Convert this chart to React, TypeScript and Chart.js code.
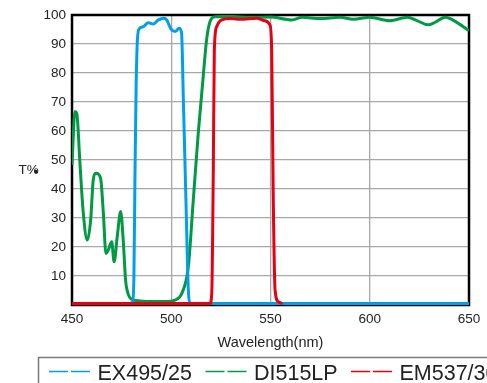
import { useEffect, useRef } from "react";
import { Chart, registerables } from "chart.js";

Chart.register(...registerables);

// ---- data ----
const xTicks = [450, 500, 550, 600, 650];
const yTicks = [0, 10, 20, 30, 40, 50, 60, 70, 80, 90, 100];

const exLabel = "EX495/25";
const exWl = [479, 480.5, 481.2, 481.7, 482.3, 483, 484, 486, 488.4, 491, 493.5, 496.3, 497.7, 499.9, 501.9, 504, 505.2, 506.1, 507.4, 508.6, 509.4, 511, 650];
const exT = [0.5, 1, 10, 43, 75, 92, 95.4, 96, 97.3, 96.9, 98.3, 98.9, 98.3, 95.1, 94.3, 95.4, 93.8, 70.7, 36.2, 5.2, 0.8, 0.5, 0.5];

const diLabel = "DI515LP";
const diWl = [450, 451.5, 452.4, 454, 455.7, 457.7, 459.4, 460.7, 462.1, 464.4, 465.8, 467.1, 468.3, 470, 471.2, 472.8, 474.5, 475.8, 477, 478.4, 480, 484.3, 490, 497, 501.9, 505.3, 508.6, 511.1, 513.6, 515.8, 517.8, 519.5, 522, 530, 540, 550, 560.7, 566, 575, 585, 591.7, 600, 610, 619, 624, 629.5, 633, 638, 643, 650];
const diT = [48.3, 66.7, 66.1, 48.9, 31.6, 22.4, 29.3, 43.1, 45.4, 43.7, 31.6, 17.8, 19, 21.8, 14.9, 23.6, 32.2, 22.4, 8.6, 3.6, 2, 1.4, 1.2, 1.2, 1.7, 4, 13.2, 36.2, 59.2, 76.4, 91.4, 97.7, 99.4, 99.5, 99.2, 99.3, 98.3, 99.2, 98.8, 99.2, 98.5, 99.2, 98, 99.2, 98, 96.6, 97.5, 99.2, 97.8, 94.6];

const emLabel = "EM537/30";
const emWl = [450, 519.5, 520.4, 521.2, 521.7, 522.9, 525.4, 530, 535, 543, 547.2, 549.7, 550.6, 551.4, 552.3, 554, 556];
const emT = [0.5, 0.5, 4, 47.7, 87.9, 96, 98.3, 98.8, 98.5, 98.9, 98, 96.6, 87.9, 36.2, 5.2, 1.1, 0.5];

const BLUE = "#00a0e9";
const GREEN = "#009a44";
const RED = "#e60012";
const FONT = '"Liberation Sans", Arial, sans-serif';

export default function App() {
  const ref = useRef<HTMLCanvasElement>(null);

  useEffect(() => {
    const canvas = ref.current;
    if (!canvas) return;
    const toPts = (w: number[], t: number[]) => w.map((x, i) => ({ x, y: t[i] }));

    const framePlugin = {
      id: "frame",
      beforeDatasetsDraw(chart: any) {
        const { ctx, chartArea: a } = chart;
        ctx.save();
        ctx.strokeStyle = "#000";
        ctx.lineWidth = 2.5;
        ctx.strokeRect(a.left, a.top, a.right - a.left, a.bottom - a.top);
        ctx.restore();
      },
      afterDraw(chart: any) {
        const { ctx, chartArea: a } = chart;
        ctx.save();
        // y title
        ctx.fillStyle = "#222";
        ctx.font = `13.5px ${FONT}`;
        ctx.textAlign = "left";
        ctx.textBaseline = "alphabetic";
        ctx.fillText("T%", 18.5, 174);
        ctx.beginPath();
        ctx.arc(36, 171.5, 1.8, 0, Math.PI * 2);
        ctx.fill();
        // x title
        ctx.font = `14.5px ${FONT}`;
        ctx.textAlign = "center";
        ctx.fillText("Wavelength(nm)", (a.left + a.right) / 2, 347);
        // legend box
        ctx.strokeStyle = "#7a7a7a";
        ctx.lineWidth = 1.5;
        ctx.fillStyle = "#fff";
        ctx.fillRect(38.5, 357.5, 520, 60);
        ctx.strokeRect(38.5, 357.5, 520, 60);
        const items = [
          { c: BLUE, t: exLabel, x: 49 },
          { c: GREEN, t: diLabel, x: 205.5 },
          { c: RED, t: emLabel, x: 351 },
        ];
        ctx.font = `21.5px ${FONT}`;
        ctx.textAlign = "left";
        for (const it of items) {
          ctx.strokeStyle = it.c;
          ctx.lineWidth = 1.6;
          ctx.setLineDash([19, 3]);
          ctx.beginPath();
          ctx.moveTo(it.x, 371.5);
          ctx.lineTo(it.x + 41, 371.5);
          ctx.stroke();
          ctx.setLineDash([]);
          ctx.fillStyle = "#222";
          ctx.fillText(it.t, it.x + 48.5, 379.5);
        }
        ctx.restore();
      },
    };

    const chart = new Chart(canvas, {
      type: "line",
      data: {
        datasets: [
          { label: emLabel, data: toPts(emWl, emT), borderColor: RED, backgroundColor: RED, order: 0 },
          { label: exLabel, data: toPts(exWl, exT), borderColor: BLUE, backgroundColor: BLUE, order: 1 },
          { label: diLabel, data: toPts(diWl, diT), borderColor: GREEN, backgroundColor: GREEN, order: 2 },
        ],
      },
      options: {
        responsive: false,
        animation: false,
        layout: { padding: { left: 0, right: 18, top: 15, bottom: 0 } },
        plugins: { legend: { display: false }, tooltip: { enabled: false } },
        elements: {
          point: { radius: 0 },
          line: { borderWidth: 3, cubicInterpolationMode: "monotone" },
        },
        scales: {
          x: {
            type: "linear",
            min: 450,
            max: 650,
            afterBuildTicks: (s: any) => {
              s.ticks = xTicks.map((v) => ({ value: v }));
            },
            afterFit: (s: any) => {
              s.height = 78;
            },
            grid: { color: "#a8a8a8", lineWidth: 1.3, drawTicks: false },
            border: { display: false },
            ticks: { color: "#222", font: { family: FONT, size: 13.5 }, padding: 6, maxRotation: 0 },
          },
          y: {
            type: "linear",
            min: 0,
            max: 100,
            afterBuildTicks: (s: any) => {
              s.ticks = yTicks.map((v) => ({ value: v }));
            },
            afterFit: (s: any) => {
              s.width = 72;
            },
            grid: { color: "#a8a8a8", lineWidth: 1.3, drawTicks: false },
            border: { display: false },
            ticks: {
              color: "#222",
              font: { family: FONT, size: 13.5 },
              padding: 6,
              callback: (v: any) => (v === 0 ? "" : String(v)),
            },
          },
        },
      },
      plugins: [framePlugin],
    });
    return () => chart.destroy();
  }, []);

  return (
    <div style={{ position: "fixed", left: 0, top: 0, width: 487, height: 383, background: "#fff", overflow: "hidden" }}>
      <canvas ref={ref} width={487} height={383} style={{ width: 487, height: 383, display: "block" }} />
    </div>
  );
}
